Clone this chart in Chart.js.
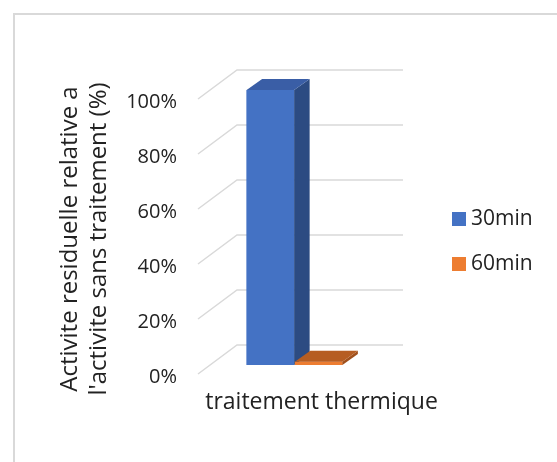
<!DOCTYPE html>
<html>
<head>
<meta charset="utf-8">
<script src="https://cdn.jsdelivr.net/npm/chart.js@4/dist/chart.umd.min.js"></script>
<style>
  html, body { margin: 0; padding: 0; background: #ffffff; }
  #wrap { width: 557px; height: 462px; position: relative; }
</style>
</head>
<body>
<div id="wrap"><canvas id="c" width="557" height="462"></canvas></div>
<script>
// Data
const categories = ['traitement thermique'];
const seriesNames = ['30min', '60min'];
const values30 = [100];
const values60 = [1.2];
const yTickValues = [0, 20, 40, 60, 80, 100];
const axisTitleLines = ["Activite residuelle relative a", "l'activite sans traitement (%)"];

// Face colours: front, top, side
const faces = [
  { front: '#4472C4', top: '#3A5EA6', side: '#2C4B82' },
  { front: '#ED7D31', top: '#B65D22', side: '#A0501C' }
];

const FONT = "'Open Sans', 'Noto Sans', sans-serif";
const TEXT = '#222222';

// Pseudo-3D geometry (pixels)
const BAR_DX = 15.5, BAR_DY = -11;     // depth of each bar
const WALL_DX = 39, WALL_BACK = 20;    // back wall offset from bar plane
const FLOOR_FRONT = 9;                 // side wall front edge below bar plane

const depth3d = {
  id: 'depth3d',
  beforeDraw(chart) {
    const { ctx } = chart;
    ctx.save();
    ctx.strokeStyle = '#D9D9D9';
    ctx.lineWidth = 2;
    ctx.strokeRect(14, 14, chart.width + 20, chart.height + 20);
    ctx.restore();
  },
  beforeDatasetsDraw(chart) {
    const { ctx, chartArea: a, scales: { y } } = chart;
    ctx.save();
    ctx.strokeStyle = '#D9D9D9';
    ctx.lineWidth = 1.5;
    yTickValues.forEach(v => {
      const py = y.getPixelForValue(v);
      const back = py - WALL_BACK;
      ctx.beginPath();
      ctx.moveTo(a.left, py + FLOOR_FRONT);
      ctx.lineTo(a.left + WALL_DX, back);
      ctx.lineTo(a.right + 12, back);
      ctx.stroke();
    });
    ctx.restore();
  },
  afterDatasetsDraw(chart) {
    const { ctx } = chart;
    ctx.save();
    chart.data.datasets.forEach((ds, i) => {
      const meta = chart.getDatasetMeta(i);
      const f = faces[i];
      meta.data.forEach(bar => {
        const { x, y, base, width } = bar.getProps(['x', 'y', 'base', 'width'], true);
        const l = x - width / 2, r = x + width / 2;
        // front
        ctx.fillStyle = f.front;
        ctx.fillRect(l, y, width, base - y);
        // side
        ctx.fillStyle = f.side;
        ctx.beginPath();
        ctx.moveTo(r, y);
        ctx.lineTo(r + BAR_DX, y + BAR_DY);
        ctx.lineTo(r + BAR_DX, base + BAR_DY);
        ctx.lineTo(r, base);
        ctx.closePath();
        ctx.fill();
        // top
        ctx.fillStyle = f.top;
        ctx.beginPath();
        ctx.moveTo(l, y);
        ctx.lineTo(r, y);
        ctx.lineTo(r + BAR_DX, y + BAR_DY);
        ctx.lineTo(l + BAR_DX, y + BAR_DY);
        ctx.closePath();
        ctx.fill();
      });
    });
    ctx.restore();
  },
  afterDraw(chart) {
    const { ctx } = chart;
    ctx.save();
    // vertical axis title
    ctx.fillStyle = TEXT;
    ctx.font = '24px ' + FONT;
    ctx.textAlign = 'center';
    ctx.textBaseline = 'middle';
    ctx.translate(70, 239);
    ctx.rotate(-Math.PI / 2);
    axisTitleLines.forEach((line, k) => ctx.fillText(line, 0, k * 29));
    ctx.restore();

    // legend
    ctx.save();
    ctx.font = '21px ' + FONT;
    ctx.textBaseline = 'middle';
    ctx.textAlign = 'left';
    chart.data.datasets.forEach((ds, i) => {
      const cy = 219 + i * 45;
      ctx.fillStyle = ds.backgroundColor;
      ctx.fillRect(452, cy - 7, 14, 14);
      ctx.fillStyle = TEXT;
      ctx.fillText(ds.label, 471, cy);
    });
    ctx.restore();
  }
};

new Chart(document.getElementById('c'), {
  type: 'bar',
  data: {
    labels: categories,
    datasets: [
      { label: seriesNames[0], data: values30, backgroundColor: faces[0].front },
      { label: seriesNames[1], data: values60, backgroundColor: faces[1].front }
    ]
  },
  options: {
    responsive: false,
    animation: false,
    events: [],
    categoryPercentage: 0.5,
    barPercentage: 0.985,
    layout: { padding: { left: 0, right: 166, top: 90, bottom: 0 } },
    plugins: {
      legend: { display: false },
      tooltip: { enabled: false }
    },
    scales: {
      x: {
        grid: { display: false, drawTicks: false },
        border: { display: false },
        ticks: {
          font: { family: FONT, size: 23 },
          color: TEXT,
          padding: 24,
          labelOffset: 27,
          maxRotation: 0
        },
        afterFit(scale) { scale.height = 97; }
      },
      y: {
        min: 0,
        max: 100,
        grid: { display: false, drawTicks: false },
        border: { display: false },
        ticks: {
          stepSize: 20,
          font: { family: FONT, size: 20 },
          color: TEXT,
          padding: 21,
          labelOffset: 12,
          callback: v => v + '%'
        },
        afterFit(scale) { scale.width = 198; }
      }
    }
  },
  plugins: [depth3d]
});
</script>
</body>
</html>
